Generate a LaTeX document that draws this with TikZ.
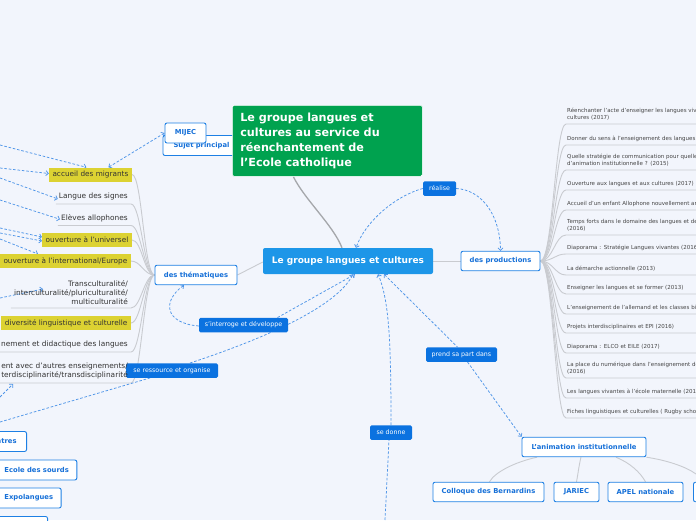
\documentclass[tikz,border=0pt]{standalone}
\usepackage{fontspec}
\setmainfont{DejaVu Sans}
\usetikzlibrary{arrows.meta}
\pgfdeclarelayer{back}
\pgfdeclarelayer{lines}
\pgfsetlayers{back,lines,main}
\definecolor{bgc}{HTML}{F2F5FC}
\definecolor{labc}{HTML}{0B72E0}
\definecolor{cenc}{HTML}{1D96E8}
\definecolor{grn}{HTML}{00A24F}
\definecolor{wbord}{HTML}{1E80E4}
\definecolor{wtext}{HTML}{1670D8}
\definecolor{yel}{HTML}{DCD232}
\definecolor{dtext}{HTML}{333333}
\definecolor{rtxt}{HTML}{454545}
\definecolor{grayl}{HTML}{C9CBD0}
\definecolor{grayd}{HTML}{A5A7AB}
\definecolor{dashc}{HTML}{4F95E8}
\tikzset{
 lab/.style={fill=labc, text=white, rounded corners=1.5pt, font=\fontsize{6.3}{7.5}\selectfont, inner sep=0pt, minimum height=14.5pt},
 wbox/.style={draw=wbord, line width=0.9pt, fill=white, rounded corners=2pt, text=wtext, font=\fontsize{6.8}{8}\selectfont\bfseries, inner sep=0pt, minimum height=19.5pt},
 ybox/.style={fill=yel, text=dtext, font=\fontsize{7.3}{9}\selectfont, inner xsep=3.5pt, inner ysep=0pt, minimum height=14pt, anchor=east},
 ltext/.style={text=dtext, font=\fontsize{7.4}{9}\selectfont, inner xsep=3pt, inner ysep=3.3pt, anchor=south east, align=right},
 rtext/.style={text=rtxt, font=\fontsize{5.5}{7}\selectfont, inner xsep=4pt, inner ysep=3.6pt, anchor=south west, align=left, text width=220pt},
 gl/.style={draw=grayl, line width=0.9pt},
 dl/.style={draw=dashc, line width=0.75pt, dash pattern=on 2.6pt off 1.8pt},
 tip/.style={-{Straight Barb[length=2.4pt,width=5pt]}},
 tipb/.style={{Straight Barb[length=2.4pt,width=5pt]}-},
 tipbb/.style={{Straight Barb[length=2.4pt,width=5pt]}-{Straight Barb[length=2.4pt,width=5pt]}},
}
\begin{document}
\begin{tikzpicture}[x=1pt,y=-1pt]
\useasboundingbox (0,0) rectangle (696,520);
\begin{pgfonlayer}{back}
\fill[bgc] (0,0) rectangle (696,520);
\end{pgfonlayer}
\clip (0,0) rectangle (696,520);

% ---------- main nodes
\node[fill=cenc, text=white, rounded corners=2pt, font=\fontsize{9}{11}\selectfont\bfseries, minimum width=170pt, minimum height=26pt, inner sep=0pt] (central) at (348,261) {Le groupe langues et cultures};
\node[wbox, minimum width=77pt, minimum height=20pt] (sujet) at (201.5,145.5) {Sujet principal};
\node[fill=grn, draw=white, line width=0.6pt, text=white, rounded corners=1.5pt, font=\fontsize{11.2}{15}\selectfont\bfseries, anchor=north west, inner xsep=8pt, inner ysep=0pt, text width=174pt, align=left, minimum height=71pt] (green) at (232,105) {Le groupe langues et\\cultures au service du\\réenchantement de\\l'Ecole catholique};
\node[wbox, minimum width=41pt, minimum height=20pt] (mijec) at (185.5,133) {MIJEC};

\node[wbox, minimum width=82pt] (them) at (196,275) {des thématiques};
\node[wbox, minimum width=79pt] (prod) at (500.5,261) {des productions};
\node[wbox, minimum width=124pt] (anim) at (584,447) {L'animation institutionnelle};
\node[wbox, minimum width=111pt] (coll) at (488.5,492) {Colloque des Bernardins};
\node[wbox, minimum width=45pt] (jar) at (576.5,492) {JARIEC};
\node[wbox, minimum width=75pt] (apel) at (645.5,492) {APEL nationale};
\node[wbox, minimum width=40pt, anchor=west] (anim4) at (693,492) {};

% labels
\node[lab, minimum width=33pt] (real) at (439.5,188.5) {réalise};
\node[lab, minimum width=89pt] (sint) at (243.5,325) {s'interroge et développe};
\node[lab, minimum width=92pt] (res) at (172,370.5) {se ressource et organise};
\node[lab, minimum width=71pt] (prend) at (461.5,354.5) {prend sa part dans};
\node[lab, minimum width=42pt] (don) at (391,432.5) {se donne};

% left items
\node[ybox] (acc) at (132,174.5) {accueil des migrants};
\node[ltext] (sig) at (131,204) {Langue des signes};
\node[ltext] (allo) at (131,225.5) {Elèves allophones};
\node[ybox] (univ) at (132,240) {ouverture à l'universel};
\node[ybox] (intl) at (131,261) {ouverture à l'international/Europe};
\node[ltext] (trans) at (131,308) {Transculturalité/\\interculturalité/pluriculturalité/\\multiculturalité};
\node[ybox] (div) at (131,323) {diversité linguistique et culturelle};
\node[ltext] (ens) at (131,352) {nement et didactique des langues};
\node[ltext] (inter) at (131,383) {ent avec d'autres enseignements/\\terdisciplinarité/transdisciplinarité};

% left-bottom cut boxes
\node[wbox, anchor=east, minimum width=40pt, minimum height=20pt, inner xsep=8pt, align=right] (b1) at (27,441.5) {ntres};
\node[wbox, anchor=west, minimum height=20pt, inner xsep=8pt] (b2) at (-4,470) {Ecole des sourds};
\node[wbox, anchor=west, minimum height=20pt, inner xsep=8pt] (b3) at (-4,498) {Expolangues};
\node[wbox, anchor=north east, minimum width=70pt, minimum height=20pt] (b4) at (48,516) {};

% right items
\node[rtext] (r1) at (563,124) {Réenchanter l'acte d'enseigner les langues viv\\cultures (2017)};
\node[rtext] (r2) at (563,145) {Donner du sens à l'enseignement des langues};
\node[rtext] (r3) at (563,170) {Quelle stratégie de communication pour quelle\\d'animation institutionnelle ? (2015)};
\node[rtext] (r4) at (563,190) {Ouverture aux langues et aux cultures (2017)};
\node[rtext] (r5) at (563,210) {Accueil d'un enfant Allophone nouvellement ar};
\node[rtext] (r6) at (563,235) {Temps forts dans le domaine des langues et de\\(2016)};
\node[rtext] (r7) at (563,254) {Diaporama : Stratégie Langues vivantes (2016};
\node[rtext] (r8) at (563,275) {La démarche actionnelle (2013)};
\node[rtext] (r9) at (563,294) {Enseigner les langues et se former (2013)};
\node[rtext] (r10) at (563,314) {L'enseignement de l'allemand et les classes bil};
\node[rtext] (r11) at (563,333) {Projets interdisciplinaires et EPI (2016)};
\node[rtext] (r12) at (563,353) {Diaporama : ELCO et EILE (2017)};
\node[rtext] (r13) at (563,378) {La place du numérique dans l'enseignement de\\(2016)};
\node[rtext] (r14) at (563,398) {Les langues vivantes à l'école maternelle (201};
\node[rtext] (r15) at (563,418) {Fiches linguistiques et culturelles ( Rugby scho};

% free ends of cross links
\coordinate (e1) at (0,145);
\coordinate (e2) at (0,168);
\coordinate (e3) at (0,178);
\coordinate (e4) at (0,200);
\coordinate (e5) at (0,228);
\coordinate (e6) at (0,233);
\coordinate (e7) at (0,239);
\coordinate (e8) at (0,298);
\coordinate (e9) at (0,397);
\coordinate (e10) at (0,422);
\coordinate (e11) at (385,520);
\coordinate (e12) at (696,474);

\begin{pgfonlayer}{lines}
% tree connectors
\draw[draw=grayd, line width=1.3pt] ([xshift=-34pt]green.south) .. controls (305,200) and (333,225) .. ([xshift=-6pt]central.north);
\draw[gl] (them.east) -- ([yshift=-1pt]central.west);
\draw[gl] (central.east) -- (prod.west);
\foreach \n in {acc,univ,intl,div}{
  \draw[gl] (\n.east) .. controls ([xshift=10pt]\n.east) and (144,275) .. (them.west);
}
\foreach \n in {sig,allo,trans,ens,inter}{
  \draw[gl] (\n.south west) -- (\n.south east) .. controls ([xshift=10pt]\n.south east) and (144,275) .. (them.west);
}
\foreach \n in {r1,r2,r3,r4,r5,r6,r7,r8,r9,r10,r11,r12,r13,r14,r15}{
  \draw[gl] (prod.east) .. controls (553,261) and ([xshift=-8pt]\n.south west) .. ([xshift=3pt]\n.south west) -- (\n.south east);
}
\draw[gl] ([xshift=-47pt]anim.south) .. controls (515,462) and (495,472) .. ([xshift=1pt]coll.north);
\draw[gl] ([xshift=-3pt]anim.south) .. controls (579,465) and (578,474) .. (jar.north);
\draw[gl] ([xshift=32pt]anim.south) .. controls (630,463) and (640,472) .. (apel.north);
\draw[gl] (anim.south east) .. controls (665,460) and (685,466) .. (e12);

% cross links
\draw[dl,tipbb] ([xshift=18pt]acc.north) -- (mijec.west);
\draw[dl,tip] (e1) -- ([xshift=-4pt]acc.north);
\draw[dl,tip] (e2) -- ([yshift=1pt]acc.west);
\draw[dl,tip] (e3) -- ([xshift=2pt,yshift=-2pt]sig.west);
\draw[dl,tip] (e4) -- ([xshift=2pt,yshift=-1pt]allo.west);
\draw[dl,tip] (e5) -- ([yshift=3pt]univ.west);
\draw[dl,tip] (e6) -- ([yshift=-1pt]univ.west);
\draw[dl,tip] (e7) -- (38,254);
\draw[dl,tip] (e8) -- (43,289);
\draw[dl,tip] (e9) -- (13,384);

\draw[dl,tip] (real.west) .. controls (395,196) and (365,222) .. ([xshift=8pt]central.north);
\draw[dl,tip] (real.east) .. controls (482,190) and (500,215) .. (prod.north);
\draw[dl,tip] ([yshift=-1pt]sint.west) .. controls (163,323) and (163,300) .. ([xshift=-12pt]them.south);
\draw[dl,tip] ([xshift=34pt]sint.north) -- ([xshift=7pt]central.south);
\draw[dl] (e10) -- ([xshift=-22pt]res.south);
\draw[dl,tip] ([xshift=18pt]res.north) .. controls (290,330) and (340,300) .. ([xshift=5pt]central.south);
\draw[dl] (e11) -- ([xshift=-2pt]don.south);
\draw[dl,tip] (don.north) .. controls (391,340) and (389,300) .. ([xshift=30pt]central.south);
\draw[dl,tipb] ([xshift=36pt]central.south) -- ([xshift=-4pt]prend.north);
\draw[dl,tip] ([xshift=6pt]prend.south) -- (anim.north west);
\end{pgfonlayer}
\end{tikzpicture}
\end{document}
